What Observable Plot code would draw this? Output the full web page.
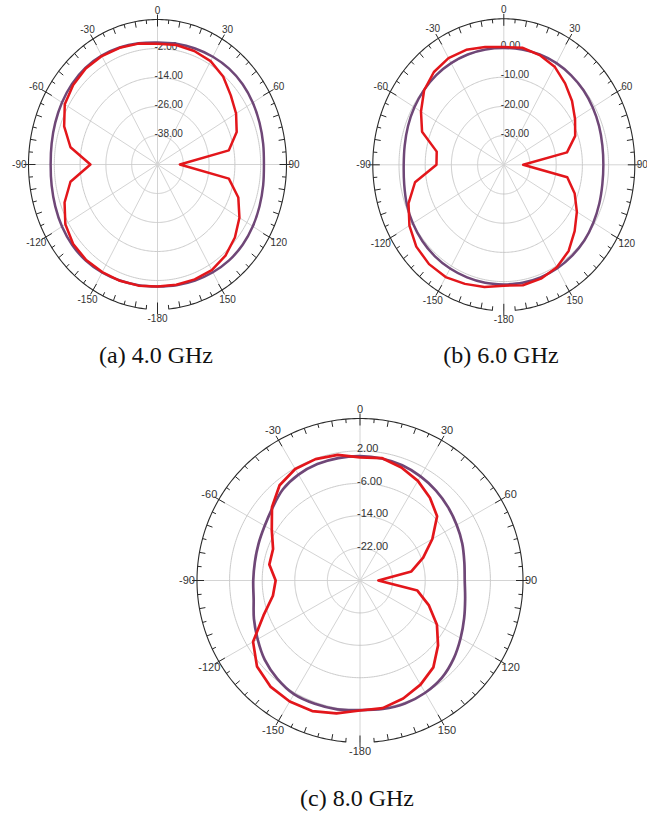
<!DOCTYPE html>
<html><head><meta charset="utf-8">
<script src="https://cdn.jsdelivr.net/npm/d3@7"></script>
<script src="https://cdn.jsdelivr.net/npm/@observablehq/plot@0.6"></script>
<style>
html,body{margin:0;padding:0;background:#fff}
body{width:647px;height:820px;position:relative;overflow:hidden}
.panel{position:absolute}
.cap{position:absolute;font-family:"Liberation Serif","Times New Roman",serif;font-size:24px;line-height:1;color:#111;transform:translateX(-50%);white-space:nowrap}
</style></head><body>
<div id="pa" class="panel" style="left:0px;top:0px"></div>
<div id="pb" class="panel" style="left:323px;top:0px"></div>
<div id="pc" class="panel" style="left:150px;top:395px"></div>
<div class="cap" style="left:156px;top:343px">(a) 4.0 GHz</div>
<div class="cap" style="left:501px;top:343px">(b) 6.0 GHz</div>
<div class="cap" style="left:357px;top:786px">(c) 8.0 GHz</div>
<script>
// Angles (degrees, 0 = top, clockwise positive)
const angles = [-180,-170,-160,-150,-140,-130,-120,-110,-100,-90,-80,-70,-60,-50,-40,-30,-20,-10,0,10,20,30,40,50,60,70,80,90,100,110,120,130,140,150,160,170,180];
const angleLabels = [0,30,60,90,120,150,180,-150,-120,-90,-60,-30];

// (a) 4.0 GHz
const ringsA = [-38,-26,-14,-2];
const redA = [0.5,0.9,1.2,1.4,1.6,1.2,-0.5,-4.0,-8.9,-18.8,-8.9,-3.8,-0.2,1.2,1.9,1.8,1.4,0.8,0.0,0.2,0.0,-0.6,-2.5,-5.5,-7.8,-10.8,-16.3,-39.6,-16.3,-10.0,-6.0,-3.0,-0.8,0.5,0.6,0.5,0.5];
const purpleA = [0.5,0.7,1.1,1.6,1.9,1.8,1.3,0.6,0.0,-0.3,0.0,0.6,1.3,1.9,2.2,2.0,1.5,0.9,0.5,0.7,1.1,1.5,1.8,1.7,1.2,0.5,-0.1,-0.5,-0.1,0.5,1.2,1.7,1.8,1.5,1.1,0.7,0.5];

// (b) 6.0 GHz
const ringsB = [-30,-20,-10,0];
const redB = [1.4,2.5,3.4,4.4,4.4,3.6,1.6,-1.3,-5.6,-14.3,-14.0,-6.8,-3.5,-0.3,1.5,2.2,1.9,1.0,0.3,0.7,0.0,-1.2,-3.6,-6.0,-8.6,-11.0,-15.5,-32.6,-15.4,-11.2,-7.8,-4.7,-1.5,0.5,1.5,1.9,1.4];
const purpleB = [1.0,1.0,1.0,1.0,0.9,0.6,0.1,-0.6,-1.4,-1.8,-1.6,-1.1,-0.6,-0.2,0.1,0.2,0.2,0.1,0.0,0.1,0.2,0.2,0.0,-0.3,-0.8,-1.3,-1.8,-2.0,-1.8,-1.2,-0.5,0.2,0.6,0.9,1.0,1.0,1.0];

// (c) 8.0 GHz
const ringsC = [-22,-14,-6,2];
const redC = [2.1,3.3,4.3,4.5,4.2,3.0,0.3,-4.8,-8.3,-9.3,-7.4,-7.3,-5.0,-1.8,0.7,1.8,1.9,1.5,0.4,0.7,-0.3,-1.6,-3.3,-5.3,-9.5,-13.5,-17.2,-25.5,-15.7,-12.0,-8.2,-5.0,-2.0,-0.3,1.0,2.0,2.1];
const purpleC = [2.0,2.3,2.4,2.4,1.6,0.5,-1.0,-2.3,-3.5,-3.8,-3.8,-3.5,-3.0,-2.0,-0.6,0.2,0.6,0.7,0.7,0.6,0.3,-0.3,-1.0,-1.8,-2.6,-3.3,-4.0,-4.3,-3.8,-2.8,-1.5,0.0,1.3,2.0,2.3,2.2,2.0];

const RED = "#e3161b", PURPLE = "#6f4777";

function polar(cfg) {
  const {min, max, rings, red, purple, W, H, cx, cy, rx, ry, fs, sw} = cfg;
  const R = max - min;
  const sx = rx / R, sy = ry / R;           // px per unit
  const rad = a => a * Math.PI / 180;
  const px = (a, v, o = 0) => ((v - min) + o / sx) * Math.sin(rad(a));
  const py = (a, v, o = 0) => ((v - min) + o / sy) * Math.cos(rad(a));
  const circle = (v, from, to) => d3.range(from, to + 0.001, 1).map(a => ({a, v}));
  const ringPts = rings.flatMap(v => circle(v, -180, 180));
  const outer = circle(max, -175, 175);
  const spokes = d3.range(-180, 180, 30);
  const ticks = d3.range(-180, 180, 5);
  const tickIn = a => (a % 30 === 0 ? 7 : a % 10 === 0 ? 6 : 4);
  const tickOut = a => (a % 30 === 0 ? 5 : 0);
  const trace = vals => angles.map((a, i) => ({a, v: vals[i]}));
  const midLabels = angleLabels.filter(a => Math.abs(a) !== 90);
  const labOff = a => (Math.abs(Math.cos(rad(a))) > 0.9 ? 9 : 11);
  const txt = {fill: "#333", fontSize: fs};
  return Plot.plot({
    width: W, height: H, margin: 0,
    x: {domain: [-R, R], range: [cx - rx, cx + rx], axis: null},
    y: {domain: [-R, R], range: [cy + ry, cy - ry], axis: null},
    style: {background: "transparent", fontFamily: "'Liberation Sans', Arial, sans-serif", overflow: "visible"},
    marks: [
      Plot.link(spokes, {x1: () => 0, y1: () => 0, x2: a => px(a, max), y2: a => py(a, max), stroke: "#d4d4d4", strokeWidth: 1}),
      Plot.line(ringPts, {x: d => px(d.a, d.v), y: d => py(d.a, d.v), z: d => d.v, stroke: "#cbcbcb", strokeWidth: 1}),
      Plot.line(outer, {x: d => px(d.a, d.v), y: d => py(d.a, d.v), stroke: "#2a2a2a", strokeWidth: 1.1}),
      Plot.link(ticks, {x1: a => px(a, max, -tickIn(a)), y1: a => py(a, max, -tickIn(a)), x2: a => px(a, max, tickOut(a)), y2: a => py(a, max, tickOut(a)), stroke: "#2a2a2a", strokeWidth: 1}),
      Plot.text(rings, {x: () => 0, y: v => v - min, text: v => v.toFixed(2), textAnchor: "start", dx: -3, dy: -2, ...txt}),
      Plot.text(midLabels, {x: a => px(a, max, labOff(a)), y: a => py(a, max, labOff(a)), text: a => (a === 180 ? "-180" : String(a)), ...txt}),
      Plot.text([90], {x: a => px(a, max, 2), y: () => 0, text: a => String(a), textAnchor: "start", ...txt}),
      Plot.text([-90], {x: a => px(a, max, 2), y: () => 0, text: a => String(a), textAnchor: "end", ...txt}),
      Plot.line(trace(purple), {x: d => px(d.a, d.v), y: d => py(d.a, d.v), stroke: PURPLE, strokeWidth: sw, curve: "catmull-rom"}),
      Plot.line(trace(red), {x: d => px(d.a, d.v), y: d => py(d.a, d.v), stroke: RED, strokeWidth: sw, strokeLinejoin: "round"})
    ]
  });
}

document.getElementById("pa").append(polar({min: -50, max: 10, rings: ringsA, red: redA, purple: purpleA, W: 323, H: 335, cx: 157, cy: 164, rx: 129, ry: 145, fs: 10, sw: 2.5}));
document.getElementById("pb").append(polar({min: -40, max: 10, rings: ringsB, red: redB, purple: purpleB, W: 324, H: 335, cx: 180.3, cy: 164.3, rx: 131, ry: 146, fs: 10, sw: 2.5}));
document.getElementById("pc").append(polar({min: -30, max: 10, rings: ringsC, red: redC, purple: purpleC, W: 420, H: 370, cx: 209.5, cy: 185, rx: 163, ry: 162, fs: 11, sw: 2.7}));
</script>
</body></html>
